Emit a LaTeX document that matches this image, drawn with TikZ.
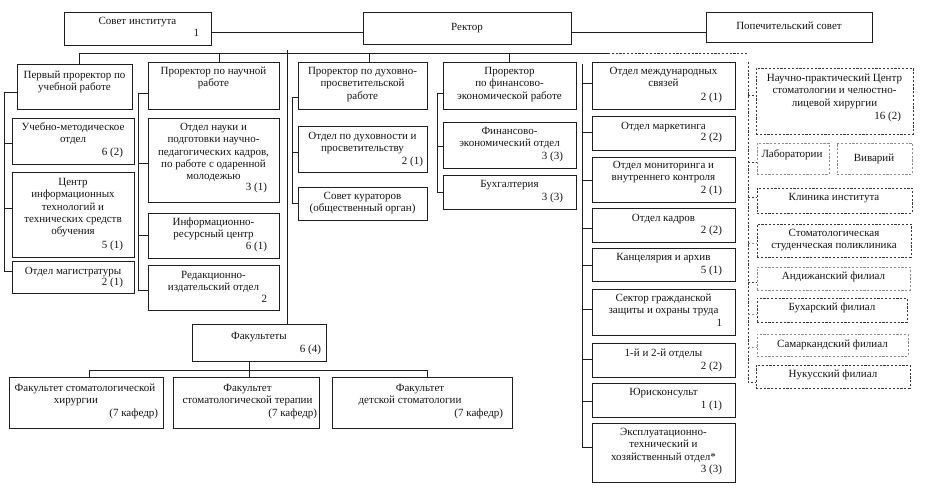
\documentclass[tikz,border=0pt]{standalone}
\usepackage{fontspec}
\setmainfont{Liberation Serif}
\tikzset{
 box/.style={draw=black!88, line width=1pt, inner sep=0pt, outer sep=0pt, anchor=north west},
 dbox/.style={box, draw=black!78, dash pattern=on 2.2pt off 1.6pt},
 lbox/.style={box, draw=black!45, dash pattern=on 2.2pt off 1.6pt},
 txt/.style={inner sep=0pt, outer sep=0pt, align=center, font=\fontsize{11}{12.2}\selectfont, text=black!92},
 ln/.style={draw=black!88, line width=1pt},
 dln/.style={draw=black!78, line width=1pt, dash pattern=on 2.2pt off 1.6pt},
 lln/.style={draw=black!45, line width=1pt, dash pattern=on 2.2pt off 1.6pt},
}
\newcommand\Bx[6]{\node[#6, minimum width={(#4)-(#2)}, minimum height={(#5)-(#3)}] (#1) at (#2,#3) {};}
\newcommand\Tx[4]{\node[txt, anchor=north] (#1) at ({#2},{#3-5.8}) {\strut #4};}
\newcommand\Nm[4]{\node[txt, anchor=base east] (#1) at ({#2},{#3+2.8}) {#4};}
\begin{document}
\begin{tikzpicture}[x=1pt,y=-1pt]
\useasboundingbox (0,0) rectangle (942,488);
% top row
\Bx{so}{64}{12}{211}{45}{box}
\Tx{so-t}{137.5}{22}{Совет института}
\Nm{so-n}{199}{34}{1}
\Bx{rek}{363}{12}{571}{44}{box}
\Tx{rek-t}{467}{28}{Ректор}
\Bx{pop}{706}{12}{872}{42}{box}
\Tx{pop-t}{789}{27}{Попечительский совет}
% column 1
\Bx{pp}{17}{64}{132}{109}{box}
\Tx{pp-t}{74.5}{76}{Первый проректор по\\учебной работе}
\Bx{umo}{12}{118}{134}{164}{box}
\Tx{umo-t}{73}{128}{Учебно-методическое\\отдел}
\Nm{umo-n}{123}{153}{6 (2)}
\Bx{ci}{12}{172}{134}{257}{box}
\Tx{ci-t}{73}{183}{Центр\\информационных\\технологий и\\технических средств\\обучения}
\Nm{ci-n}{123}{246}{5 (1)}
\Bx{mag}{12}{261}{134}{293}{box}
\Tx{mag-t}{73}{272}{Отдел магистратуры}
\Nm{mag-n}{123}{283}{2 (1)}
% column 2
\Bx{pn}{148}{62}{279}{109}{box}
\Tx{pn-t}{213.5}{72}{Проректор по научной\\работе}
\Bx{on}{148}{118}{279}{202}{box}
\Tx{on-t}{213.5}{128}{Отдел науки и\\подготовки научно-\\педагогических кадров,\\по работе с одаренной\\молодежью}
\Nm{on-n}{267}{188}{3 (1)}
\Bx{irc}{148}{213}{279}{258}{box}
\Tx{irc-t}{213.5}{223}{Информационно-\\ресурсный центр}
\Nm{irc-n}{267}{247}{6 (1)}
\Bx{red}{148}{265}{279}{310}{box}
\Tx{red-t}{213.5}{276}{Редакционно-\\издательский отдел}
\Nm{red-n}{267}{300}{2}
% column 3
\Bx{pd}{298}{62}{427}{109}{box}
\Tx{pd-t}{362.5}{72}{Проректор по духовно-\\просветительской\\работе}
\Bx{odp}{298}{126}{427}{172}{box}
\Tx{odp-t}{362.5}{137}{Отдел по духовности и\\просветительству}
\Nm{odp-n}{423}{162}{2 (1)}
\Bx{sk}{298}{187}{427}{220}{box}
\Tx{sk-t}{362.5}{197}{Совет кураторов\\(общественный орган)}
% column 4
\Bx{pf}{443}{62}{576}{109}{box}
\Tx{pf-t}{509.5}{72}{Проректор\\по финансово-\\экономической работе}
\Bx{feo}{443}{122}{576}{168}{box}
\Tx{feo-t}{509.5}{132}{Финансово-\\экономический отдел}
\Nm{feo-n}{563}{157}{3 (3)}
\Bx{bu}{443}{175}{576}{209}{box}
\Tx{bu-t}{509.5}{185}{Бухгалтерия}
\Nm{bu-n}{563}{198}{3 (3)}
% departments
\Bx{d1}{592}{62}{735}{109}{box}
\Tx{d1-t}{663.5}{72}{Отдел международных\\связей}
\Nm{d1-n}{722}{98}{2 (1)}
\Bx{d2}{592}{116}{735}{150}{box}
\Tx{d2-t}{663.5}{127}{Отдел маркетинга}
\Nm{d2-n}{722}{138}{2 (2)}
\Bx{d3}{592}{157}{735}{202}{box}
\Tx{d3-t}{663.5}{166}{Отдел мониторинга и\\внутреннего контроля}
\Nm{d3-n}{722}{191}{2 (1)}
\Bx{d4}{592}{208}{735}{242}{box}
\Tx{d4-t}{663.5}{219}{Отдел кадров}
\Nm{d4-n}{722}{231}{2 (2)}
\Bx{d5}{592}{248}{735}{281}{box}
\Tx{d5-t}{663.5}{258}{Канцелярия и архив}
\Nm{d5-n}{722}{271}{5 (1)}
\Bx{d6}{592}{289}{735}{335}{box}
\Tx{d6-t}{663.5}{299}{Сектор гражданской\\защиты и охраны труда}
\Nm{d6-n}{722}{324}{1}
\Bx{d7}{592}{343}{735}{377}{box}
\Tx{d7-t}{663.5}{354}{1-й и 2-й отделы}
\Nm{d7-n}{722}{367}{2 (2)}
\Bx{d8}{592}{383}{735}{417}{box}
\Tx{d8-t}{663.5}{393}{Юрисконсульт}
\Nm{d8-n}{722}{406}{1 (1)}
\Bx{d9}{592}{423}{735}{482}{box}
\Tx{d9-t}{663.5}{433}{Эксплуатационно-\\технический и\\хозяйственный отдел*}
\Nm{d9-n}{722}{470}{3 (3)}
% right dashed column
\Bx{np}{756}{68}{913}{134}{dbox}
\Tx{np-t}{834.5}{79}{Научно-практический Центр\\стоматологии и челюстно-\\лицевой хирургии}
\Nm{np-n}{901}{117}{16 (2)}
\Bx{lab}{757}{143}{829}{174}{lbox}
\Tx{lab-t}{792}{155}{Лаборатории}
\Bx{viv}{837}{143}{912}{174}{lbox}
\Tx{viv-t}{874}{159}{Виварий}
\Bx{kl}{757}{188}{912}{213}{dbox}
\Tx{kl-t}{834}{198}{Клиника института}
\Bx{ssp}{757}{224}{911}{257}{dbox}
\Tx{ssp-t}{834}{234}{Стоматологическая\\студенческая поликлиника}
\Bx{and}{757}{267}{910}{290}{lbox}
\Tx{and-t}{833.5}{277}{Андижанский филиал}
\Bx{bukh}{757}{298}{907}{322}{dbox}
\Tx{bukh-t}{832}{308}{Бухарский филиал}
\Bx{sam}{757}{334}{908}{356}{lbox}
\Tx{sam-t}{832.5}{345}{Самаркандский филиал}
\Bx{nuk}{756}{365}{910}{388}{dbox}
\Tx{nuk-t}{833}{375}{Нукусский филиал}
% faculties
\Bx{fak}{192}{324}{326}{361}{box}
\Tx{fak-t}{259}{337}{Факультеты}
\Nm{fak-n}{321}{350}{6 (4)}
\Bx{f1}{9}{377}{163}{428}{box}
\Tx{f1-a}{85}{389}{Факультет стоматологической}
\Tx{f1-b}{76}{401}{хирургии}
\Nm{f1-n}{158}{414}{(7 кафедр)}
\Bx{f2}{173}{377}{319}{428}{box}
\Tx{f2-t}{247.5}{389}{Факультет\\стоматологической терапии}
\Nm{f2-n}{317}{414}{(7 кафедр)}
\Bx{f3}{332}{377}{512}{428}{box}
\Tx{f3-a}{420}{389}{Факультет}
\Tx{f3-b}{410}{401}{детской стоматологии}
\Nm{f3-n}{503}{414}{(7 кафедр)}
% connectors: top row
\draw[ln] (so.east |- 0,32) -- (rek.west |- 0,32);
\draw[ln] (rek.east |- 0,32) -- (pop.west |- 0,32);
% main bus
\coordinate (busL) at (79,53);
\coordinate (busM) at (608,53);
\coordinate (busR) at (748,53);
\draw[ln] (busL) -- (busM);
\draw[dln] (busM) -- (busR);
\draw[ln] (busL) -- (busL |- pp.north);
\draw[ln] (busL -| 219,0) -- (pn.north -| 219,0);
\draw[ln] (busL -| 369,0) -- (pd.north -| 369,0);
\draw[ln] (busL -| pf.north) -- (pf.north);
\coordinate (lv) at (287,50);
\draw[ln] (lv) -- (lv |- fak.north);
% column 1 bracket
\coordinate (a1) at (4,92);
\coordinate (a2) at (4,271);
\draw[ln] (pp.west |- a1) -- (a1) -- (a2) -- (mag.west |- a2);
\draw[ln] (a1 |- 0,143) -- (umo.west |- 0,143);
\draw[ln] (a1 |- 0,208) -- (ci.west |- 0,208);
% column 2 bracket
\coordinate (b1) at (138,93);
\coordinate (b2) at (138,290);
\draw[ln] (pn.west |- b1) -- (b1) -- (b2) -- (red.west |- b2);
\draw[ln] (b1 |- 0,163) -- (on.west |- 0,163);
\draw[ln] (b1 |- 0,235) -- (irc.west |- 0,235);
% column 3 bracket
\coordinate (c1) at (292,97);
\coordinate (c2) at (292,203);
\draw[ln] (pd.west |- c1) -- (c1) -- (c2) -- (sk.west |- c2);
\draw[ln] (c1 |- 0,152) -- (odp.west |- 0,152);
% column 4 bracket
\coordinate (e1) at (437,93);
\coordinate (e2) at (437,192);
\draw[ln] (pf.west |- e1) -- (e1) -- (e2) -- (bu.west |- e2);
\draw[ln] (e1 |- 0,146) -- (feo.west |- 0,146);
% departments column
\coordinate (dc) at (582,64);
\coordinate (dcb) at (582,447);
\draw[ln] (dc) -- (dcb) -- (d9.west |- dcb);
\draw[ln] (dc |- 0,83) -- (d1.west |- 0,83);
\draw[ln] (dc |- 0,132) -- (d2.west |- 0,132);
\draw[ln] (dc |- 0,180) -- (d3.west |- 0,180);
\draw[ln] (dc |- 0,228) -- (d4.west |- 0,228);
\draw[ln] (dc |- 0,265) -- (d5.west |- 0,265);
\draw[ln] (dc |- 0,309) -- (d6.west |- 0,309);
\draw[ln] (dc |- 0,359) -- (d7.west |- 0,359);
\draw[ln] (dc |- 0,401) -- (d8.west |- 0,401);
% right dashed column
\coordinate (rc) at (748,62);
\coordinate (rcb) at (748,382);
\draw[dln] (rc) -- (rcb) -- (nuk.west |- rcb);
\draw[dln] (rc |- 0,95) -- (np.west |- 0,95);
\draw[dln] (rc |- 0,162) -- (lab.west |- 0,162);
\draw[dln] (rc |- 0,197) -- (kl.west |- 0,197);
\draw[lln] (rc |- 0,243) -- (ssp.west |- 0,243);
\draw[dln] (rc |- 0,282) -- (and.west |- 0,282);
\draw[lln] (rc |- 0,314) -- (bukh.west |- 0,314);
\draw[lln] (rc |- 0,347) -- (sam.west |- 0,347);
% faculties bus
\coordinate (fb) at (249,370);
\coordinate (fbL) at (89,370);
\coordinate (fbR) at (427,370);
\draw[ln] (fak.south -| fb) -- (fb);
\draw[ln] (fbL) -- (fbR);
\draw[ln] (fbL) -- (fbL |- f1.north);
\draw[ln] (fb) -- (fb |- f2.north);
\draw[ln] (fbR) -- (fbR |- f3.north);
\end{tikzpicture}
\end{document}
